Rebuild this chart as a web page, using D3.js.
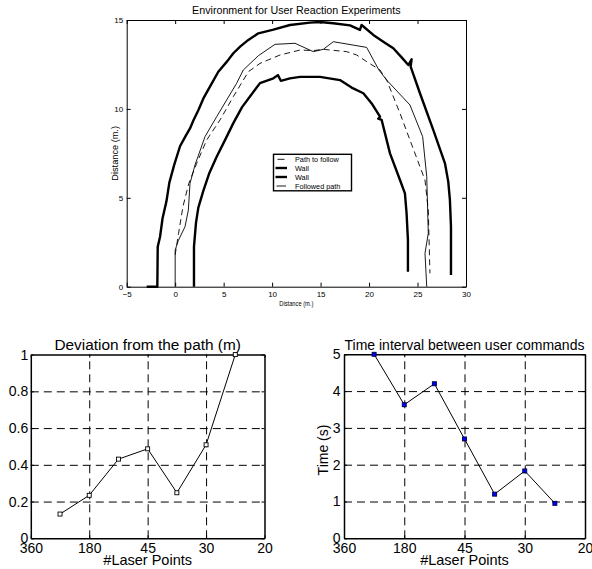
<!DOCTYPE html>
<html><head><meta charset="utf-8">
<script src="https://cdn.jsdelivr.net/npm/d3@7"></script>
<style>
body{margin:0;background:#fff;}
svg{display:block;font-family:"Liberation Sans",Arial,Helvetica,sans-serif;}
text{fill:#000;}
</style></head><body>
<svg id="c" width="592" height="569"></svg>
<script>
// ---------- Top chart data ----------
const envTitle = "Environment for User Reaction Experiments";
const envXTicks = [-5,0,5,10,15,20,25,30];
const envYTicks = [0,5,10,15];
const pathX = [0,0.35,0.8,1.4,2.22,3.25,4.63,6.0,7.55,8.75,10.81,12.88,14.25,15.28,17.7,18.73,19.75,21.13,21.82,23.19,24.22,25.25,25.77,26.11,26.28];
const pathY = [1.8,3.0,4.5,5.8,6.94,8.25,9.38,10.69,12.09,12.56,13.03,13.31,13.28,13.35,13.22,13.03,12.66,12.19,11.62,9.75,8.25,6.75,6.0,4.31,0.75];
const outerWallX = [-2.94,-1.84,-1.8,-1.56,-1.3,-0.9,-0.6,-0.1,0.5,1.1,1.53,1.9,2.4,2.91,3.59,4.45,5.4,6.0,6.7,7.55,8.58,10.13,11.84,13.9,14.94,16.3,18.03,19.06,19.23,19.75,20.44,21.47,22.5,23.36,24.05,24.39,24.29,25.25,26.63,27.83,28.17,28.34,28.45,28.45];
const outerWallY = [0,0,2.25,2.81,3.85,4.8,5.85,6.85,7.9,8.5,8.9,9.38,9.94,10.59,11.25,12.09,12.7,13.13,13.5,13.88,14.25,14.46,14.72,14.85,14.89,14.82,14.7,14.44,14.72,14.48,14.16,13.78,13.41,12.9,12.47,12.79,12.38,10.88,8.81,6.94,5.91,4.88,3.38,0.66];
const innerWallX = [1.94,1.94,2.15,2.39,2.91,3.53,4.28,5.1,6.0,6.9,8.06,8.75,10.13,10.6,10.9,11.84,12.88,14.94,17.0,18.2,19.41,20.27,21.13,20.95,21.3,22.16,23.19,23.7,23.87,24.01,24.01];
const innerWallY = [0,2.25,3.6,4.45,5.4,6.4,7.31,8.2,9.2,10.1,10.95,11.45,11.72,11.9,11.58,11.72,11.8,11.8,11.62,11.2,10.88,10.31,9.56,9.45,9.38,7.5,6.0,5.25,4.13,2.63,0.84];
const followedX = [0,0,0.33,1.02,1.36,1.53,2.05,3.08,4.28,5.31,6.34,7.03,8.6,10.3,12.36,14.25,15.28,16.31,19.75,21.0,21.82,24.22,25.53,25.95,26.11,25.77,25.95];
const followedY = [0,2.06,2.6,3.38,4.31,5.81,6.85,8.44,9.56,10.5,11.44,12.19,13.0,13.63,13.69,13.22,13.35,13.78,13.46,12.2,11.62,10.22,8.44,6.19,3.0,1.88,0];
const legendLabels = ["Path to follow","Wall","Wall","Followed path"];

// ---------- Bottom charts data ----------
const laserTickLabels = ["360","180","45","30","20"];
const laserTickPos = [0,1,2,3,4];
const samplePos = [0.5,1,1.5,2,2.5,3,3.5];
const deviation = [0.132,0.234,0.431,0.487,0.248,0.509,1.0];
const timeInterval = [5.0,3.63,4.2,2.7,1.2,1.83,0.95];
const devYTicks = [0,0.2,0.4,0.6,0.8,1];
const timeYTicks = [0,1,2,3,4,5];

const svg = d3.select("#c");

// ================= TOP CHART =================
(function(){
  const L=126.7,R=466,T=20,B=286.7;
  const x = d3.scaleLinear().domain([-5,30]).range([L,R]);
  const y = d3.scaleLinear().domain([0,15]).range([B,T]);
  const g = svg.append("g");
  const line = d3.line().x(d=>x(d[0])).y(d=>y(d[1]));
  const zip = (a,b)=>a.map((v,i)=>[v,b[i]]);

  g.append("path").attr("d",line(zip(outerWallX,outerWallY))).attr("fill","none").attr("stroke","#000").attr("stroke-width",2.4).attr("stroke-linejoin","round");
  g.append("path").attr("d",line(zip(innerWallX,innerWallY))).attr("fill","none").attr("stroke","#000").attr("stroke-width",2.4).attr("stroke-linejoin","round");
  g.append("path").attr("d",line(zip(pathX,pathY))).attr("fill","none").attr("stroke","#000").attr("stroke-width",0.9).attr("stroke-dasharray","6,4");
  g.append("path").attr("d",line(zip(followedX,followedY))).attr("fill","none").attr("stroke","#000").attr("stroke-width",0.9);

  const ax = g.append("g").attr("transform",`translate(0,${B})`)
    .call(d3.axisBottom(x).tickValues(envXTicks).tickSize(-4).tickSizeOuter(0).tickPadding(4.3).tickFormat(d3.format("d")));
  const ay = g.append("g").attr("transform",`translate(${L},0)`)
    .call(d3.axisLeft(y).tickValues(envYTicks).tickSize(-4).tickSizeOuter(0).tickPadding(3.5).tickFormat(d3.format("d")));
  const at = g.append("g").attr("transform",`translate(0,${T})`)
    .call(d3.axisTop(x).tickValues(envXTicks).tickSize(-4).tickSizeOuter(0).tickFormat(""));
  const ar = g.append("g").attr("transform",`translate(${R},0)`)
    .call(d3.axisRight(y).tickValues(envYTicks).tickSize(-4).tickSizeOuter(0).tickFormat(""));
  [ax,ay,at,ar].forEach(a=>{
    a.selectAll("path.domain").attr("stroke","#000").attr("stroke-width",1);
    a.selectAll(".tick line").attr("stroke","#000");
    a.selectAll("text").attr("font-size",8).attr("fill","#000").attr("font-family","Liberation Sans, Arial, sans-serif");
  });

  g.append("text").attr("x",(L+R)/2).attr("y",13.5).attr("text-anchor","middle").attr("font-size",10.7).attr("fill","#000").text(envTitle);
  g.append("text").attr("x",(L+R)/2).attr("y",306).attr("text-anchor","middle").attr("font-size",7.5).attr("fill","#000")
    .attr("textLength",34).attr("lengthAdjust","spacingAndGlyphs").text("Distance (m.)");
  g.append("text").attr("transform",`translate(118,${(T+B)/2}) rotate(-90)`).attr("text-anchor","middle").attr("font-size",9.2).attr("fill","#000").text("Distance (m.)");

  // legend
  const lg = g.append("g");
  lg.append("rect").attr("x",273.5).attr("y",154.3).attr("width",78).attr("height",36.5).attr("fill","#fff").attr("stroke","#000").attr("stroke-width",1.4);
  const rows=[159.3,168,177,186];
  const styles=[{w:0.9,d:"7,4",x1:277.5,x2:284.5},{w:2.4,d:null,x1:275.5,x2:287},{w:2.4,d:null,x1:275.5,x2:287},{w:0.9,d:null,x1:276.5,x2:286}];
  legendLabels.forEach((lab,i)=>{
    const l = lg.append("line").attr("x1",styles[i].x1).attr("x2",styles[i].x2).attr("y1",rows[i]).attr("y2",rows[i]).attr("stroke","#000").attr("stroke-width",styles[i].w);
    if(styles[i].d) l.attr("stroke-dasharray",styles[i].d);
    lg.append("text").attr("x",295).attr("y",rows[i]).attr("dy","0.35em").attr("font-size",7.3).attr("fill","#000").text(lab);
  });
})();

// ================= BOTTOM CHARTS =================
function bottomChart(opt){
  const {L,R,T,B,yMax,yTicks,values,title,titleSize,ylabel,markerFill,markerStroke,gridY,ylabPad} = opt;
  const x = d3.scaleLinear().domain([0,4]).range([L,R]);
  const y = d3.scaleLinear().domain([0,yMax]).range([B,T]);
  const g = svg.append("g");
  g.append("g").attr("transform",`translate(0,${B})`)
    .call(d3.axisBottom(x).tickValues([1,2,3]).tickSize(-(B-T)).tickFormat(""))
    .call(s=>{s.select(".domain").remove(); s.selectAll("line").attr("stroke","#000").attr("stroke-dasharray","8,5").attr("stroke-width",1);});
  g.append("g").attr("transform",`translate(${L},0)`)
    .call(d3.axisLeft(y).tickValues(gridY).tickSize(-(R-L)).tickFormat(""))
    .call(s=>{s.select(".domain").remove(); s.selectAll("line").attr("stroke","#000").attr("stroke-dasharray","8,5").attr("stroke-width",1);});
  const ax = g.append("g").attr("transform",`translate(0,${B})`)
    .call(d3.axisBottom(x).tickValues(laserTickPos).tickSize(-3).tickSizeOuter(0).tickPadding(5).tickFormat(i=>laserTickLabels[i]));
  const ay = g.append("g").attr("transform",`translate(${L},0)`)
    .call(d3.axisLeft(y).tickValues(yTicks).tickSize(-3).tickSizeOuter(0).tickPadding(ylabPad).tickFormat(d=>String(d)));
  const at = g.append("g").attr("transform",`translate(0,${T})`)
    .call(d3.axisTop(x).tickValues(laserTickPos).tickSize(-3).tickSizeOuter(0).tickFormat(""));
  const ar = g.append("g").attr("transform",`translate(${R},0)`)
    .call(d3.axisRight(y).tickValues(yTicks).tickSize(-3).tickSizeOuter(0).tickFormat(""));
  [ax,ay,at,ar].forEach(a=>{
    a.selectAll("path.domain").attr("stroke","#000").attr("stroke-width",1.5);
    a.selectAll(".tick line").attr("stroke","#000");
    a.selectAll("text").attr("font-size",14).attr("fill","#000").attr("font-family","Liberation Sans, Arial, sans-serif");
  });
  const pts = samplePos.map((p,i)=>[p,values[i]]);
  g.append("path").attr("d",d3.line().x(d=>x(d[0])).y(d=>y(d[1]))(pts)).attr("fill","none").attr("stroke","#000").attr("stroke-width",1);
  g.selectAll("rect.m").data(pts).join("rect").attr("class","m")
    .attr("x",d=>x(d[0])-2).attr("y",d=>y(d[1])-2).attr("width",4).attr("height",4)
    .attr("fill",markerFill).attr("stroke",markerStroke).attr("stroke-width",0.9);
  g.append("text").attr("x",(L+R)/2).attr("y",350).attr("text-anchor","middle").attr("font-size",titleSize).attr("fill","#000").text(title);
  g.append("text").attr("x",(L+R)/2).attr("y",564.5).attr("text-anchor","middle").attr("font-size",14.5).attr("fill","#000").text("#Laser Points");
  if(ylabel){
    g.append("text").attr("transform",`translate(327.5,450) rotate(-90)`).attr("text-anchor","middle").attr("font-size",14).attr("fill","#000").text(ylabel);
  }
}

bottomChart({L:30.8,R:264.5,T:354.6,B:538.3,yMax:1,yTicks:devYTicks,values:deviation,
  title:"Deviation from the path (m)",titleSize:15.4,ylabel:null,markerFill:"#fff",markerStroke:"#000",
  gridY:[0.2,0.4,0.6,0.8],ylabPad:2.5});
bottomChart({L:344,R:585,T:354.3,B:538.3,yMax:5,yTicks:timeYTicks,values:timeInterval,
  title:"Time interval between user commands",titleSize:14,ylabel:"Time (s)",markerFill:"#0000ff",markerStroke:"#000040",
  gridY:[1,2,3,4],ylabPad:3.5});
</script>
</body></html>
